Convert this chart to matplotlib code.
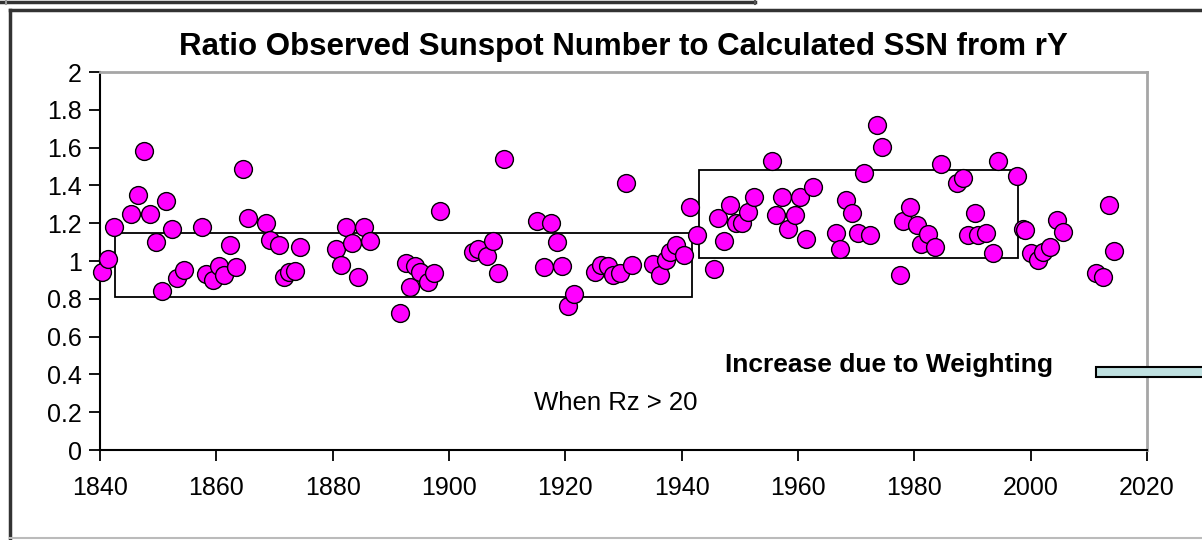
import matplotlib
matplotlib.use('Agg')
import matplotlib.pyplot as plt
from matplotlib.patches import Rectangle
from matplotlib.lines import Line2D

plt.rcParams['font.family'] = ['Liberation Sans', 'DejaVu Sans']

# year of each point and observed / calculated SSN ratio
years = [1840.3, 1841.3, 1842.4, 1845.4, 1846.6, 1847.6, 1848.6, 1849.6, 1850.6, 1851.3,
         1852.3, 1853.3, 1854.4, 1857.5, 1858.3, 1859.5, 1860.5, 1861.3, 1862.3, 1863.4,
         1864.5, 1865.5, 1868.5, 1869.2, 1870.7, 1871.6, 1872.5, 1873.5, 1874.4, 1880.6,
         1881.5, 1882.3, 1883.3, 1884.4, 1885.4, 1886.4, 1891.6, 1892.6, 1893.3, 1894.2,
         1895.0, 1896.4, 1897.5, 1898.5, 1904.1, 1905.0, 1906.5, 1907.5, 1908.5, 1909.5,
         1915.2, 1916.3, 1917.5, 1918.5, 1919.4, 1920.4, 1921.5, 1925.1, 1926.1, 1927.4,
         1928.2, 1929.4, 1930.4, 1931.5, 1935.1, 1936.3, 1937.3, 1938.0, 1939.0, 1940.4,
         1941.4, 1942.6, 1945.6, 1946.3, 1947.3, 1948.3, 1949.3, 1950.3, 1951.4, 1952.5,
         1955.6, 1956.2, 1957.3, 1958.3, 1959.4, 1960.4, 1961.4, 1962.5, 1966.5, 1967.2,
         1968.2, 1969.2, 1970.3, 1971.4, 1972.4, 1973.5, 1974.5, 1977.5, 1978.1, 1979.2,
         1980.4, 1981.2, 1982.4, 1983.5, 1984.5, 1987.4, 1988.3, 1989.3, 1990.4, 1991.0,
         1992.4, 1993.6, 1994.4, 1997.6, 1998.6, 1999.0, 2000.1, 2001.2, 2002.2, 2003.3,
         2004.5, 2005.5, 2011.2, 2012.4, 2013.5, 2014.4]
ratio = [0.943, 1.01, 1.18, 1.25, 1.35, 1.58, 1.25, 1.10, 0.84, 1.32,
         1.17, 0.91, 0.95, 1.18, 0.93, 0.90, 0.975, 0.926, 1.085, 0.97,
         1.487, 1.226, 1.20, 1.11, 1.085, 0.917, 0.943, 0.949, 1.076, 1.063,
         0.979, 1.18, 1.094, 0.914, 1.18, 1.107, 0.723, 0.988, 0.861, 0.975,
         0.943, 0.89, 0.938, 1.265, 1.05, 1.063, 1.026, 1.106, 0.935, 1.538,
         1.213, 0.97, 1.203, 1.102, 0.975, 0.763, 0.825, 0.943, 0.979, 0.975,
         0.926, 0.938, 1.414, 0.979, 0.983, 0.926, 1.005, 1.05, 1.085, 1.032,
         1.287, 1.138, 0.956, 1.226, 1.107, 1.296, 1.203, 1.203, 1.261, 1.34,
         1.529, 1.243, 1.34, 1.168, 1.243, 1.34, 1.115, 1.393, 1.146, 1.063,
         1.323, 1.252, 1.146, 1.467, 1.138, 1.72, 1.605, 0.926, 1.213, 1.287,
         1.19, 1.09, 1.143, 1.076, 1.512, 1.411, 1.438, 1.138, 1.252, 1.138,
         1.146, 1.041, 1.529, 1.45, 1.17, 1.165, 1.041, 1.005, 1.05, 1.076,
         1.217, 1.155, 0.935, 0.914, 1.296, 1.053]

x_ticks = [1840, 1860, 1880, 1900, 1920, 1940, 1960, 1980, 2000, 2020]
y_ticks = [0, 0.2, 0.4, 0.6, 0.8, 1, 1.2, 1.4, 1.6, 1.8, 2]
y_labels = ['0', '0.2', '0.4', '0.6', '0.8', '1', '1.2', '1.4', '1.6', '1.8', '2']

W, H = 1202, 540
fig = plt.figure(figsize=(W / 100, H / 100), dpi=100)
ax = fig.add_axes([100 / W, 1 - 450 / H, (1147 - 100) / W, (450 - 72) / H])

ax.scatter(years, ratio, s=165, c='#ff00ff', edgecolors='black', linewidths=1.0,
           zorder=3, clip_on=False)

# boxes marking the two periods
ax.add_patch(Rectangle((1842.6, 0.811), 1941.7 - 1842.6, 1.150 - 0.811,
                       fill=False, edgecolor='black', linewidth=1.3, zorder=2))
ax.add_patch(Rectangle((1943.0, 1.017), 1997.9 - 1943.0, 1.481 - 1.017,
                       fill=False, edgecolor='black', linewidth=1.3, zorder=2))

ax.set_xlim(1840, 2020)
ax.set_ylim(0, 2)
ax.set_xticks(x_ticks)
ax.set_xticklabels([str(t) for t in x_ticks])
ax.set_yticks(y_ticks)
ax.set_yticklabels(y_labels)
ax.tick_params(direction='out', length=8, width=1.3, labelsize=18, colors='black')
ax.tick_params(axis='x', pad=11)
ax.tick_params(axis='y', pad=5)

for side in ['left', 'bottom']:
    ax.spines[side].set_color('black')
    ax.spines[side].set_linewidth(1.5)
for side in ['top', 'right']:
    ax.spines[side].set_color('#a6a6a6')
    ax.spines[side].set_linewidth(2)

ax.set_title('Ratio Observed Sunspot Number to Calculated SSN from rY',
             fontsize=22.5, fontweight='bold', pad=12)

ax.text(1975.6, 0.45, 'Increase due to Weighting', fontsize=19, fontweight='bold',
        ha='center', va='center')
ax.text(1928.7, 0.249, 'When Rz > 20', fontsize=18.5, ha='center', va='center')

# light cyan bar running off the right edge
fig.add_artist(Rectangle((1096 / W, 1 - 377 / H), 200 / W, 10 / H,
                         transform=fig.transFigure, facecolor='#bfe0e0',
                         edgecolor='black', linewidth=1.5, clip_on=False))

# chart frame and the edge of the box above
fig.add_artist(Line2D([10 / W, 10 / W], [1 - 10 / H, 1 - 538 / H], color='#333333', lw=2.5))
fig.add_artist(Line2D([10 / W, 1.0], [1 - 10 / H, 1 - 10 / H], color='#333333', lw=2.5))
fig.add_artist(Line2D([10 / W, 1.0], [1 - 538 / H, 1 - 538 / H], color='#bbbbbb', lw=1.5))
fig.add_artist(Line2D([0, 755 / W], [1 - 2 / H, 1 - 2 / H], color='#333333', lw=2.5))
fig.add_artist(Line2D([755 / W, 755 / W], [1.0, 1 - 4 / H], color='#555555', lw=1.5))
fig.add_artist(Line2D([6 / W, 6 / W], [1.0, 1 - 4 / H], color='#999999', lw=1.5))

fig.savefig('out.png', dpi=100)
